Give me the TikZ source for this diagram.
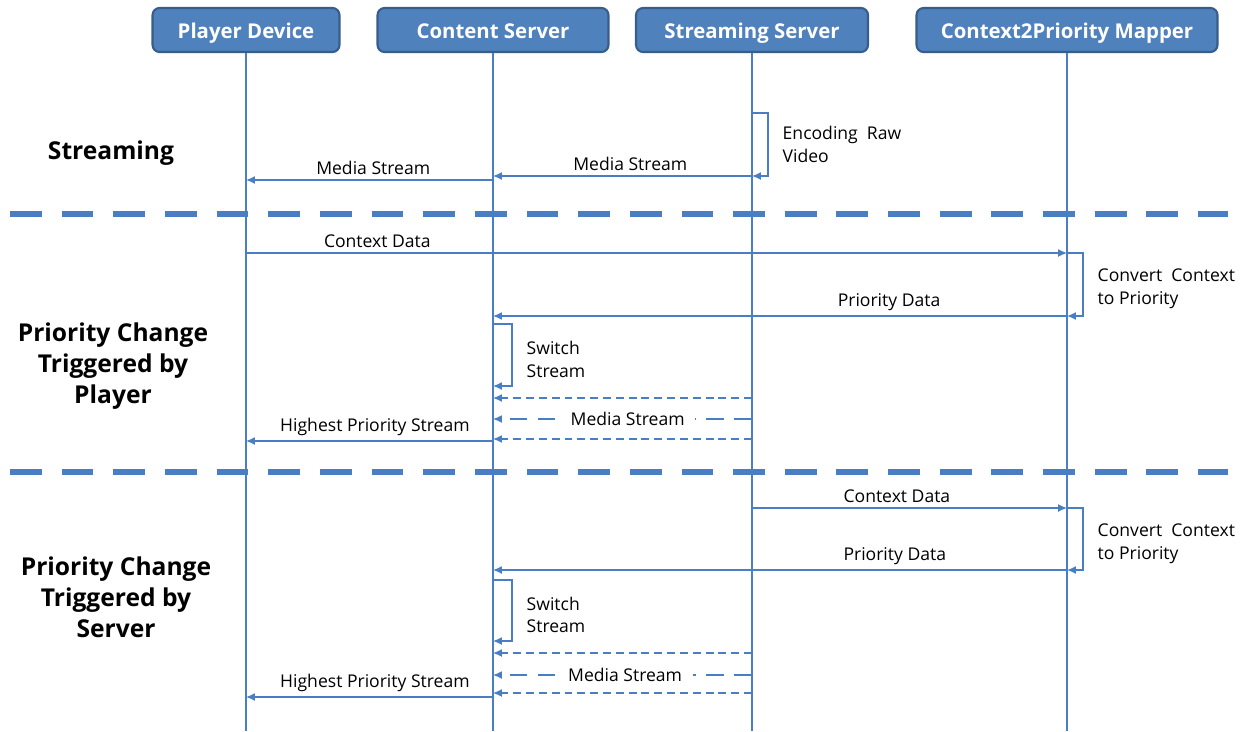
\documentclass[tikz,border=0pt]{standalone}
\usepackage{fontspec}
\setmainfont{Open Sans}
\usetikzlibrary{arrows.meta,positioning}

\definecolor{hdrblue}{HTML}{4F81BD}
\definecolor{hdredge}{HTML}{385D8A}
\definecolor{lineblue}{HTML}{4A7EC4}

\begin{document}
\begin{tikzpicture}[x=0.02cm,y=-0.02cm,
			actor/.style={draw=hdredge,line width=1.2pt,fill=hdrblue,rounded corners=4pt,text=white,
				font=\bfseries\fontsize{11.6}{13}\selectfont,minimum height=0.88cm,inner xsep=0pt,
				text height=9.5pt,text depth=0pt},
			lifeline/.style={draw=lineblue,line width=0.8pt},
			msg/.style={draw=lineblue,line width=0.8pt,-{Latex[length=5pt,width=4.5pt]}},
			reply/.style={msg,dash pattern=on 4.5pt off 2.8pt},
			longreply/.style={msg,dash pattern=on 10pt off 6pt},
			lbl/.style={above,inner sep=2.5pt,font=\fontsize{10}{11}\selectfont},
			loop label/.style={right=0.28cm,align=left,inner sep=0pt,font=\fontsize{10}{13}\selectfont},
			phase/.style={align=center,font=\bfseries\fontsize{14}{17.6}\selectfont},
			separator/.style={draw=lineblue,line width=3.4pt,dash pattern=on 18.1pt off 11.3pt}]
			\useasboundingbox (0,0) rectangle (1250,731);
			% actors
			\node[actor, minimum width=3.74cm] (pd) at (246,30) {Player Device};
			\node[actor, minimum width=4.62cm] (cs) at (493,30) {Content Server};
			\node[actor, minimum width=4.64cm] (ss) at (752,30) {Streaming Server};
			\node[actor, minimum width=6.02cm] (map) at (1067,30) {Context2Priority Mapper};
			\coordinate (bot) at (0,731);
			\foreach \a in {pd,cs,ss,map}
				\draw[lifeline] (\a.south) -- (\a.south |- bot);
			% streaming
			\coordinate (enc_top) at (0,113);
			\coordinate (enc_bot) at (0,176);
			\coordinate (ms_pd) at (0,180);
			\node[phase] (ph_stream) at (111,153) {Streaming};
			\draw[msg] (ss |- enc_top) -- ++(16,0) |- node[pos=0.25, loop label] {Encoding\ \ Raw\\Video} (ss |- enc_bot);
			\draw[msg] (ss |- enc_bot) -- node[lbl, pos=0.47] {Media Stream} (cs |- enc_bot);
			\draw[msg] (cs |- ms_pd) -- node[lbl, pos=0.485] {Media Stream} (pd |- ms_pd);
			\draw[separator] (10,214) -- (1228,214);
			% priority change triggered by player
			\coordinate (ctx_a) at (0,253);
			\coordinate (pri_a) at (0,316);
			\coordinate (sw_top_a) at (0,324);
			\coordinate (sw_bot_a) at (0,386);
			\node[phase] (ph_player) at (113,366) {Priority Change\\Triggered by\\Player};
			\draw[msg] (pd |- ctx_a) -- node[lbl, pos=0.16] {Context Data} (map |- ctx_a);
			\draw[msg] (map |- ctx_a) -- ++(16,0) |- node[pos=0.25, loop label, yshift=-2.5pt] {Convert\ \ Context\\to Priority} (map |- pri_a);
			\draw[msg] (map |- pri_a) -- node[lbl, pos=0.31] {Priority Data} (cs |- pri_a);
			\draw[msg] (cs |- sw_top_a) -- ++(19,0) |- node[pos=0.25, loop label, yshift=-2.5pt] {Switch\\Stream} (cs |- sw_bot_a);
			\coordinate (rs1_a) at (0,398);
			\coordinate (rs2_a) at (0,419);
			\coordinate (rs3_a) at (0,439);
			\coordinate (hp_a) at (0,441);
			\draw[reply] (ss |- rs1_a) -- (cs |- rs1_a);
			\draw[longreply] (ss |- rs2_a) -- node[pos=0.48, fill=white, inner xsep=6pt, font=\fontsize{10}{11}\selectfont] {Media Stream} (cs |- rs2_a);
			\draw[reply] (ss |- rs3_a) -- (cs |- rs3_a);
			\draw[msg] (cs |- hp_a) -- node[lbl, pos=0.478] {Highest Priority Stream} (pd |- hp_a);
			\draw[separator] (10,472) -- (1228,472);
			% priority change triggered by server
			\coordinate (ctx_b) at (0,508);
			\coordinate (pri_b) at (0,570);
			\coordinate (sw_top_b) at (0,580);
			\coordinate (sw_bot_b) at (0,641);
			\node[phase] (ph_server) at (116,597) {Priority Change\\Triggered by\\Server};
			\draw[msg] (ss |- ctx_b) -- node[lbl, pos=0.46] {Context Data} (map |- ctx_b);
			\draw[msg] (map |- ctx_b) -- ++(16,0) |- node[pos=0.25, loop label, yshift=-2.5pt] {Convert\ \ Context\\to Priority} (map |- pri_b);
			\draw[msg] (map |- pri_b) -- node[lbl, pos=0.30] {Priority Data} (cs |- pri_b);
			\draw[msg] (cs |- sw_top_b) -- ++(19,0) |- node[pos=0.25, loop label, yshift=-2.5pt] {Switch\\Stream} (cs |- sw_bot_b);
			\coordinate (rs1_b) at (0,653);
			\coordinate (rs2_b) at (0,675);
			\coordinate (rs3_b) at (0,693);
			\coordinate (hp_b) at (0,697);
			\draw[reply] (ss |- rs1_b) -- (cs |- rs1_b);
			\draw[longreply] (ss |- rs2_b) -- node[pos=0.49, fill=white, inner xsep=6pt, font=\fontsize{10}{11}\selectfont] {Media Stream} (cs |- rs2_b);
			\draw[reply] (ss |- rs3_b) -- (cs |- rs3_b);
			\draw[msg] (cs |- hp_b) -- node[lbl, pos=0.478] {Highest Priority Stream} (pd |- hp_b);
		\end{tikzpicture}
\end{document}
